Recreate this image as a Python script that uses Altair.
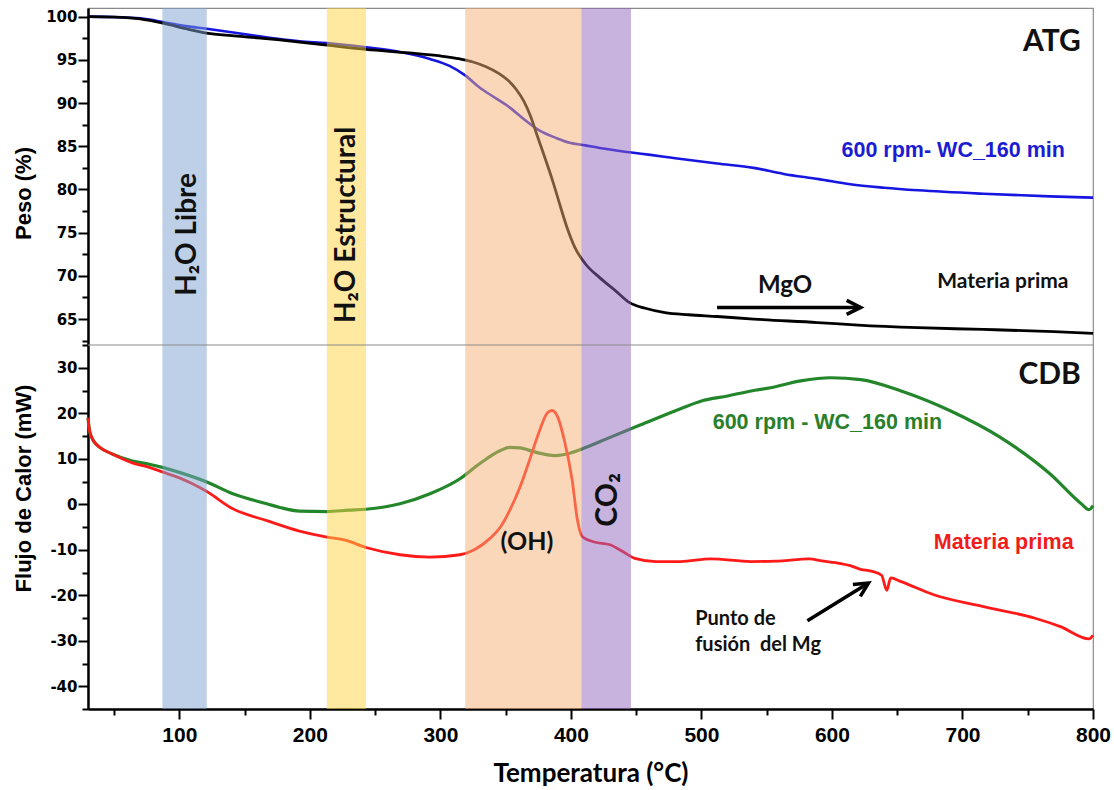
import altair as alt
import pandas as pd

# ---------------- ATG (thermogravimetry) ----------------
atg_temp_mp = [30, 50, 70, 90, 105, 121, 140, 160, 177, 192, 213, 243, 276, 300, 315, 325,
               335, 345, 352, 358, 364, 369, 374, 380, 386, 392, 397, 403, 411, 422, 434, 445,
               457, 472, 490, 512, 540, 589, 620, 666, 716, 770, 800]
atg_peso_mp = [100.0, 99.95, 99.75, 99.15, 98.6, 98.1, 97.8, 97.55, 97.3, 97.05, 96.7, 96.2,
               95.8, 95.45, 95.1, 94.75, 94.2, 93.4, 92.6, 91.6, 90.2, 88.5, 86.3, 83.7, 81.0,
               78.0, 75.6, 73.3, 71.4, 69.8, 68.3, 66.9, 66.25, 65.75, 65.5, 65.3, 65.0, 64.6,
               64.3, 64.0, 63.8, 63.55, 63.35]

atg_temp_600 = [30, 50, 70, 90, 105, 121, 140, 160, 177, 192, 213, 243, 269, 292, 307, 319,
                330, 342, 353, 365, 376, 388, 399, 411, 422, 445, 461, 476, 512, 540, 563, 590,
                614, 640, 666, 716, 767, 800]
atg_peso_600 = [100.0, 99.95, 99.8, 99.3, 98.9, 98.6, 98.2, 97.75, 97.4, 97.15, 96.95, 96.45,
                95.9, 95.1, 94.3, 93.2, 91.8, 90.6, 89.5, 88.0, 86.8, 86.0, 85.4, 85.1, 84.8,
                84.3, 84.0, 83.7, 83.0, 82.5, 81.8, 81.2, 80.6, 80.2, 79.9, 79.5, 79.2, 79.05]

# ---------------- CDB (differential scanning calorimetry) ----------------
cdb_temp_600 = [30, 31, 33, 35, 39, 49, 64, 77, 87, 100, 121, 141, 167, 177, 192, 213, 230,
                243, 269, 292, 315, 330, 346, 353, 361, 372, 388, 399, 408, 430, 453, 484, 500,
                520, 538, 553, 576, 599, 622, 653, 691, 729, 767, 791, 797, 800]
cdb_flujo_600 = [19.0, 16.5, 14.6, 13.6, 12.5, 11.0, 9.5, 8.8, 8.1, 7.0, 4.9, 2.3, 0.1, -0.7,
                 -1.5, -1.6, -1.3, -1.1, 0.1, 2.3, 5.6, 8.9, 11.8, 12.5, 12.4, 11.5, 10.7, 11.2,
                 12.1, 14.7, 17.4, 21.0, 22.7, 23.8, 24.9, 25.6, 27.1, 27.8, 27.4, 24.9, 20.5,
                 14.7, 6.7, 0.1, -1.2, -0.3]

cdb_temp_mp = [30, 31, 33, 35, 39, 49, 64, 77, 87, 100, 110, 121, 141, 167, 192, 213, 227, 243,
               269, 292, 315, 326, 338, 346, 353, 361, 369, 376, 382, 385.5, 390, 395, 401, 405,
               409, 418, 430, 438, 449, 465, 484, 507, 538, 557, 583, 591, 606, 614, 622, 630,
               638, 642, 645, 653, 678, 716, 755, 775, 797, 800]
cdb_flujo_mp = [19.0, 16.5, 14.6, 13.6, 12.5, 11.0, 9.1, 8.1, 7.1, 5.8, 4.5, 2.8, -1.0, -3.6,
                -5.9, -7.2, -7.9, -9.5, -11.1, -11.6, -11.1, -10.0, -7.5, -5.0, -1.4, 3.8, 10.3,
                16.2, 20.1, 20.6, 19.1, 14.0, 5.2, -3.5, -7.2, -8.3, -8.9, -10.1, -11.9, -12.6,
                -12.6, -12.0, -12.6, -12.5, -12.0, -12.4, -13.0, -13.5, -14.3, -14.7, -15.6,
                -18.9, -16.2, -17.0, -19.9, -22.5, -25.0, -26.9, -29.6, -28.8]

# ---------------- shaded temperature ranges ----------------
band_names = ["H2O libre", "H2O estructural", "OH", "CO2"]
band_start = [87, 213, 319, 408]
band_end = [121, 243, 408, 446]
band_colors = ["#7da1d1", "#ffd141", "#f5af73", "#9165bd"]

# ---------------- axis ticks ----------------
x_major = list(range(100, 801, 100))
x_minor = list(range(50, 801, 100))

# ---------------- sizes ----------------
W, H, H_TOP = 1005, 701, 337

x_scale = alt.Scale(domain=[30, 800], nice=False, zero=False)
y_top_scale = alt.Scale(domain=[62, 101], range=[H_TOP, 0], nice=False, zero=False)
y_bot_scale = alt.Scale(domain=[-45, 35], range=[H, H_TOP], nice=False, zero=False)

x_axis = alt.Axis(
    orient="bottom", title="Temperatura (°C)", values=x_major, tickSize=10,
    labelPadding=5, labelFlush=False, labelOverlap=False, titlePadding=15,
)
x_axis_minor = alt.Axis(
    orient="bottom", title=None, values=x_minor, tickSize=6, labels=False, domain=False,
)
y_top_axis = alt.Axis(
    orient="left", title="Peso (%)",
    values=[62.5 + 2.5 * i for i in range(16)],
    labelExpr="datum.value % 5 === 0 ? '' + datum.value : ''",
    tickSize={"condition": {"test": "datum.value % 5 === 0", "value": 10}, "value": 6},
    labelPadding=1, labelOverlap=False, labelFlush=False,
    titleX=-65, titleY=185, titleAngle=270, titleAlign="center", titleBaseline="middle",
)
y_bot_axis = alt.Axis(
    orient="left", title="Flujo de Calor (mW)",
    values=list(range(-45, 36, 5)),
    labelExpr="datum.value % 10 === 0 ? '' + datum.value : ''",
    tickSize={"condition": {"test": "datum.value % 10 === 0", "value": 10}, "value": 6},
    labelPadding=1, labelOverlap=False, labelFlush=False,
    titleX=-65, titleY=480, titleAngle=270, titleAlign="center", titleBaseline="middle",
)


def curve(temps, vals, color, width, yscale, yaxis):
    df = pd.DataFrame({"T": temps, "v": vals})
    return alt.Chart(df).mark_line(color=color, strokeWidth=width, interpolate="monotone").encode(
        x=alt.X("T:Q", scale=x_scale, axis=None),
        y=alt.Y("v:Q", scale=yscale, axis=yaxis),
    )


def label(texts, temps, vals, yscale, **mark):
    df = pd.DataFrame({"T": temps, "v": vals, "txt": texts})
    return alt.Chart(df).mark_text(baseline="alphabetic", **mark).encode(
        x=alt.X("T:Q", scale=x_scale, axis=None),
        y=alt.Y("v:Q", scale=yscale, axis=None),
        text="txt:N",
    )


def arrow(t0, v0, t1, v1, yscale, angle):
    shaft = alt.Chart(pd.DataFrame({"t0": [t0], "v0": [v0], "t1": [t1], "v1": [v1]})).mark_rule(
        color="black", strokeWidth=3.5
    ).encode(
        x=alt.X("t0:Q", scale=x_scale, axis=None), x2="t1:Q",
        y=alt.Y("v0:Q", scale=yscale, axis=None), y2="v1:Q",
    )
    head = alt.Chart(pd.DataFrame({"T": [t1], "v": [v1]})).mark_point(
        shape="M-2,-1L0,0L-2,1", size=196, filled=False, stroke="black", strokeWidth=3.5,
        angle=angle, opacity=1,
    ).encode(
        x=alt.X("T:Q", scale=x_scale, axis=None),
        y=alt.Y("v:Q", scale=yscale, axis=None),
    )
    return shaft + head


# ---- curves ----
top_curves = alt.layer(
    curve(atg_temp_600, atg_peso_600, "#1616e0", 2.6, y_top_scale, y_top_axis),
    curve(atg_temp_mp, atg_peso_mp, "#000000", 2.8, y_top_scale, y_top_axis),
)
bot_curves = alt.layer(
    curve(cdb_temp_600, cdb_flujo_600, "#23862a", 3.2, y_bot_scale, y_bot_axis),
    curve(cdb_temp_mp, cdb_flujo_mp, "#ff1a1a", 2.8, y_bot_scale, y_bot_axis),
)

# ---- translucent temperature ranges drawn over the curves (carries the x axis) ----
bands = alt.Chart(pd.DataFrame({"name": band_names, "start": band_start, "end": band_end})).mark_rect(
    opacity=0.5
).encode(
    x=alt.X("start:Q", scale=x_scale, axis=x_axis), x2="end:Q",
    y=alt.value(0), y2=alt.value(H),
    color=alt.Color("name:N", scale=alt.Scale(domain=band_names, range=band_colors), legend=None),
)

# ---- minor x ticks ----
minor_x = alt.Chart(pd.DataFrame({"T": x_minor})).mark_tick(opacity=0).encode(
    x=alt.X("T:Q", scale=x_scale, axis=x_axis_minor),
)

# ---- annotations: ATG panel ----
top_notes = alt.layer(
    label(["ATG"], [790.7], [96.06], y_top_scale, align="right", font="Lato", fontSize=30,
          fontWeight="bold", color="#111111"),
    label(["600 rpm- WC_160 min"], [692.9], [83.72], y_top_scale, align="center",
          font="Liberation Sans", fontSize=21.5, fontWeight="bold", color="#1c1cd2"),
    label(["Materia prima"], [730.9], [68.63], y_top_scale, align="center", font="Lato",
          fontSize=21, fontWeight="bold", color="#111111"),
    label(["MgO"], [564], [67.97], y_top_scale, align="center", font="Lato", fontSize=24,
          fontWeight="bold", color="#111111"),
    label(["H₂O Libre"], [113.0], [74.8], y_top_scale, align="center", angle=270, font="Lato",
          fontSize=28, fontWeight="bold", color="#111111"),
    label(["H₂O Estructural"], [234.3], [75.9], y_top_scale, align="center", angle=270,
          font="Lato", fontSize=28, fontWeight="bold", color="#111111"),
    arrow(512, 66.35, 622, 66.35, y_top_scale, 0),
)

# ---- annotations: CDB panel ----
separator = alt.Chart(pd.DataFrame({"v": [35]})).mark_rule(color="#8a8a8a", strokeWidth=1.2).encode(
    y=alt.Y("v:Q", scale=y_bot_scale, axis=None)
)
bot_notes = alt.layer(
    separator,
    label(["CDB"], [790.7], [26.5], y_bot_scale, align="right", font="Lato", fontSize=30,
          fontWeight="bold", color="#111111"),
    label(["600 rpm - WC_160 min"], [596.5], [16.5], y_bot_scale, align="center",
          font="Liberation Sans", fontSize=21.5, fontWeight="bold", color="#2a7f2a"),
    label(["Materia prima"], [731.6], [-9.73], y_bot_scale, align="center",
          font="Liberation Sans", fontSize=21.5, fontWeight="bold", color="#f01c1c"),
    label(["(OH)"], [366.3], [-10.1], y_bot_scale, align="center", font="Lato", fontSize=25,
          fontWeight="bold", color="#111111"),
    label(["CO₂"], [435.4], [0.95], y_bot_scale, align="center", angle=270, font="Lato",
          fontSize=30, fontWeight="bold", color="#111111"),
    label(["Punto de", "fusión\u00a0 del Mg"], [495.2, 495.2], [-26.5, -32.35], y_bot_scale,
          align="left", font="Lato", fontSize=20, fontWeight="bold", color="#111111"),
    arrow(581.2, -25.6, 628.0, -17.3, y_bot_scale, 328),
)

chart = alt.layer(top_curves, bot_curves, bands, minor_x, top_notes, bot_notes).resolve_scale(
    y="independent"
).resolve_axis(
    x="independent"
).properties(
    width=W, height=H,
    padding={"left": 88, "top": 8, "right": 21, "bottom": 81},
    autosize=alt.AutoSizeParams(type="none"),
    background="white",
).configure_view(
    stroke="#8a8a8a", strokeWidth=1.2
).configure_axis(
    grid=False, domainColor="black", domainWidth=2.5, tickColor="black", tickWidth=2,
    labelColor="black", labelFontWeight="bold", titleColor="black", titleFontWeight="bold",
).configure_axisY(
    labelFont="DejaVu Sans", labelFontSize=15, titleFont="Liberation Sans", titleFontSize=22,
).configure_axisX(
    labelFont="Liberation Sans", labelFontSize=21, titleFont="Lato", titleFontSize=26,
)

chart.save("out.html", embed_options={"renderer": "svg", "actions": False})
